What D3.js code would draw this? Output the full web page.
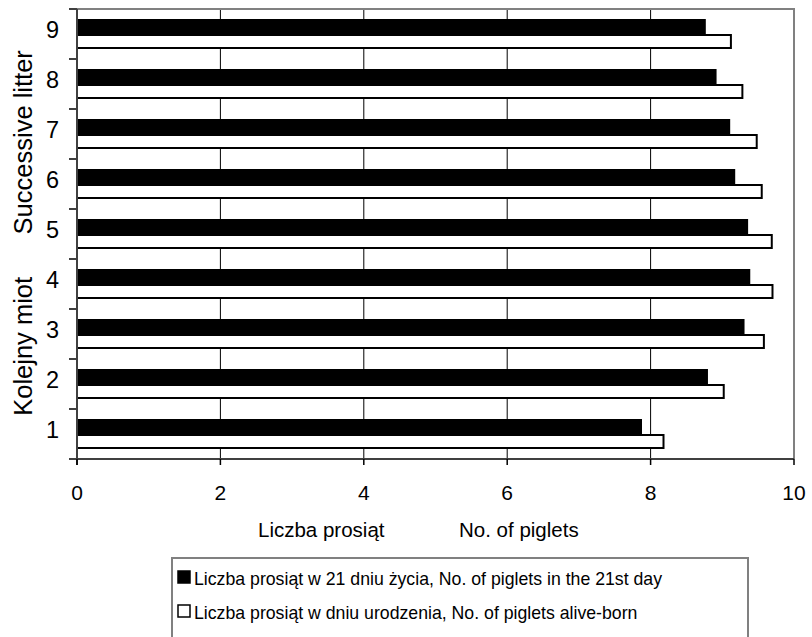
<!DOCTYPE html>
<html><head><meta charset="utf-8">
<script src="https://cdn.jsdelivr.net/npm/d3@7"></script>
<style>body{margin:0;background:#fff}svg{display:block}text{font-family:"Liberation Sans",Arial,sans-serif;fill:#000}</style>
</head><body><svg id="c" width="812" height="637"></svg>
<script>
const categories = ["1","2","3","4","5","6","7","8","9"];
const day21 = [7.88, 8.80, 9.31, 9.39, 9.36, 9.18, 9.11, 8.92, 8.77];
const aliveBorn = [8.18, 9.02, 9.58, 9.70, 9.69, 9.55, 9.48, 9.28, 9.12];
const xTicks = [0, 2, 4, 6, 8, 10];
const seriesNames = ["Liczba prosiąt w 21 dniu życia, No. of piglets in the 21st day",
                     "Liczba prosiąt w dniu urodzenia, No. of piglets alive-born"];
const xTitleParts = ["Liczba prosiąt", "No. of piglets"];
const yTitle = "Kolejny miot      Successive litter";

const svg = d3.select("#c");
const L = 77, R = 794, T = 9, B = 459;
const x = d3.scaleLinear().domain([0, 10]).range([L, R]);
const yCats = categories.slice().reverse();
const y = d3.scaleBand().domain(yCats).range([T, B]).paddingInner(0.4).paddingOuter(0.2);
const yFull = d3.scaleBand().domain(yCats).range([T, B]);
const inner = d3.scaleBand().domain([0, 1]).range([0, y.bandwidth()]);

// gridlines
svg.append("g").selectAll("line").data(xTicks.filter(d => d > 0 && d < 10)).join("line")
  .attr("x1", d => x(d)).attr("x2", d => x(d)).attr("y1", T).attr("y2", B)
  .attr("stroke", "#000").attr("stroke-width", 1);

// plot border top/right
svg.append("path").attr("d", `M${L},${T}H${R}V${B}`).attr("fill", "none")
  .attr("stroke", "#808080").attr("stroke-width", 2);

// bars
const rows = categories.map((c, i) => ({c, a: day21[i], b: aliveBorn[i]}));
svg.append("g").selectAll("rect").data(rows).join("rect")
  .attr("x", x(0)).attr("y", d => y(d.c) + inner(0))
  .attr("width", d => x(d.a) - x(0)).attr("height", inner.bandwidth() + 1)
  .attr("fill", "#000");
svg.append("g").selectAll("rect").data(rows).join("rect")
  .attr("x", x(0)).attr("y", d => y(d.c) + inner(1) + 1)
  .attr("width", d => x(d.b) - x(0)).attr("height", inner.bandwidth() - 2)
  .attr("fill", "#fff").attr("stroke", "#000").attr("stroke-width", 2);

// y axis
const yAxisG = svg.append("g");
yAxisG.append("line").attr("x1", L).attr("x2", L).attr("y1", T).attr("y2", B + 6)
  .attr("stroke", "#404040").attr("stroke-width", 2);
const bounds = yCats.map(c => yFull(c)).concat([B]);
yAxisG.selectAll("line.t").data(bounds).join("line").attr("class", "t")
  .attr("x1", L - 8).attr("x2", L).attr("y1", d => d).attr("y2", d => d)
  .attr("stroke", "#404040").attr("stroke-width", 2);
yAxisG.selectAll("text").data(yCats).join("text")
  .attr("x", 59).attr("y", d => yFull(d) + yFull.bandwidth() / 2 - 4)
  .attr("dy", "0.36em").attr("text-anchor", "end").attr("font-size", 23.5).text(d => d);

// x axis
const xAxisG = svg.append("g");
xAxisG.append("line").attr("x1", L - 8).attr("x2", R).attr("y1", B).attr("y2", B)
  .attr("stroke", "#404040").attr("stroke-width", 2);
xAxisG.selectAll("line.t").data(xTicks).join("line").attr("class", "t")
  .attr("x1", d => x(d)).attr("x2", d => x(d)).attr("y1", B).attr("y2", B + 6)
  .attr("stroke", "#000").attr("stroke-width", 1.5);
xAxisG.selectAll("text").data(xTicks).join("text")
  .attr("x", d => x(d)).attr("y", 500).attr("text-anchor", "middle")
  .attr("font-size", 21).text(d => d);

const xt = svg.append("text").attr("y", 537).attr("font-size", 20.5);
xt.append("tspan").attr("x", 258).text(xTitleParts[0]);
xt.append("tspan").attr("x", 459).text(xTitleParts[1]);
svg.append("text").attr("transform", "translate(32,233) rotate(-90)")
  .attr("text-anchor", "middle").attr("font-size", 25.5).style("white-space", "pre").text(yTitle);

// legend
const lg = svg.append("g");
lg.append("rect").attr("x", 172).attr("y", 558).attr("width", 576).attr("height", 120)
  .attr("fill", "#fff").attr("stroke", "#808080").attr("stroke-width", 2);
seriesNames.forEach((n, i) => {
  const yy = 571 + i * 34;
  lg.append("rect").attr("x", 178).attr("y", yy).attr("width", 12).attr("height", 12)
    .attr("fill", i === 0 ? "#000" : "#fff").attr("stroke", "#000").attr("stroke-width", 1.5);
  lg.append("text").attr("x", 194).attr("y", yy + 14).attr("font-size", 17.7).text(n);
});
</script></body></html>
